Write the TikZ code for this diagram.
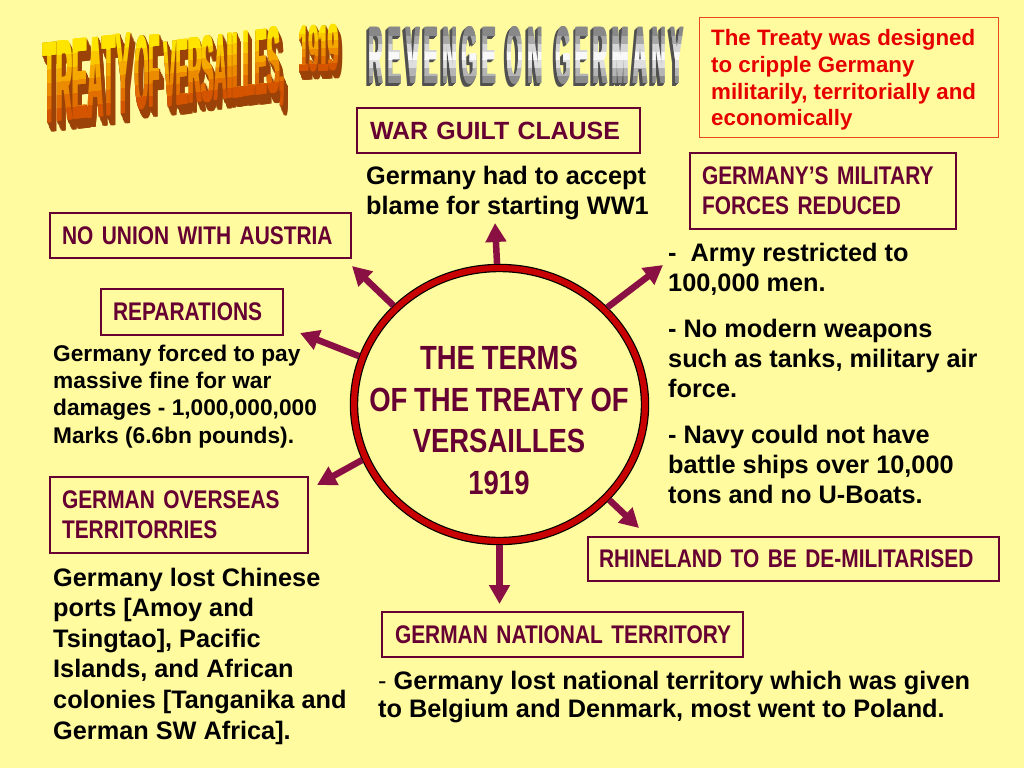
\documentclass[tikz,border=0pt]{standalone}
\usepackage{fontspec}
\setmainfont{Liberation Sans}
\newfontfamily\bodyf{Liberation Sans Bold}
\newfontfamily\regf{Liberation Sans}
\newfontfamily\narrowf{Liberation Sans Bold}[FakeStretch=0.82]
\newfontfamily\artf{Liberation Sans Bold}
\newcommand\boxfont{\narrowf\fontsize{25.5}{30}\selectfont\spaceskip 5pt\relax}
\newcommand\termsfont{\narrowf\fontsize{33.5}{41.5}\selectfont\spaceskip 6.8pt\relax}
\usetikzlibrary{arrows.meta,shapes.geometric}

\definecolor{bg}{HTML}{FFFB9E}
\definecolor{maroon}{HTML}{660033}
\definecolor{arrowc}{HTML}{8A0F42}
\definecolor{ringred}{HTML}{C80000}
\definecolor{boxred}{HTML}{E84A1C}
\definecolor{txtred}{HTML}{E60000}
\definecolor{deep}{HTML}{9A4208}
\definecolor{shadowgrey}{HTML}{505050}
\definecolor{t0}{HTML}{D45400}
\definecolor{t1}{HTML}{E26E00}
\definecolor{t2}{HTML}{EC8A00}
\definecolor{t3}{HTML}{F4A800}
\definecolor{t4}{HTML}{FBC800}
\definecolor{t5}{HTML}{FFE400}
\definecolor{r0}{HTML}{8C8C8C}
\definecolor{r1}{HTML}{B4B4B4}
\definecolor{r2}{HTML}{DEDEDE}
\definecolor{r3}{HTML}{F8F8F8}
\definecolor{r4}{HTML}{D6D6D6}
\definecolor{r5}{HTML}{A8A8A8}
\definecolor{r6}{HTML}{888888}

\tikzset{
  artnode/.style={anchor=base west, inner sep=0pt, outer sep=0pt},
  tbox/.style={draw=maroon, line width=2.6pt, text=maroon,
    font={\boxfont}, inner xsep=12pt, inner ysep=0pt,
    align=left, anchor=north west, outer sep=0pt},
  bodytxt/.style={anchor=north west, inner sep=0pt, align=left,
    font=\bodyf\fontsize{25.3}{30}\selectfont},
  arr/.style={draw=arrowc, line width=6.5pt, -{Triangle[length=19pt,width=20pt]}},
  ring/.style={ellipse, draw=black, line width=1.2pt, double=ringred, double distance=6pt,
    fill=bg, minimum width=291pt, minimum height=273pt, inner sep=0pt, outer sep=4pt}
}

% x, baseline y, width, height, slant, text, steps, ddx, ddy
\newcommand\artdepth[9]{%
  \foreach \k in {#7,...,1}{%
    \foreach \sm in {0,1.6}{%
      \node[artnode, yslant=#5, text=artdeep] at ({#1+#8*\k+\sm},{#2+#9*\k}) {\resizebox{#3pt}{#4pt}{#6}};}}}
% x, baseline y, width, height, slant, text, number of bands, band colours
\newcommand\artface[8]{%
  \foreach \col [count=\i from 0] in {#8}{%
    \pgfmathsetmacro\artlo{ifthenelse(\i==0,-14,#4*\i/#7)}%
    \pgfmathsetmacro\arthi{ifthenelse(\i==#7-1,#4+14,#4*(\i+1)/#7)}%
    \begin{scope}
      \clip ({#1-5},{#2+5*#5-(\artlo)}) -- ({#1+#3+7},{#2-(#3+7)*#5-(\artlo)})
        -- ({#1+#3+7},{#2-(#3+7)*#5-(\arthi)}) -- ({#1-5},{#2+5*#5-(\arthi)}) -- cycle;
      \foreach \dx in {0,0.8,1.6}{%
        \node[artnode, yslant=#5, text=\col] at ({#1+\dx},{#2}) {\resizebox{#3pt}{#4pt}{#6}};}
    \end{scope}}}

\begin{document}
\begin{tikzpicture}[x=1pt,y=-1pt]
\useasboundingbox (0,0) rectangle (1024,768);
\fill[bg] (0,0) rectangle (1024,768);

% ---- title word art
\colorlet{artdeep}{deep}
\artdepth{42}{123}{88}{80}{0.11}{\artf TREATY}{11}{0.4}{0.9}
\artdepth{134}{109}{25}{73}{0.10}{\artf OF}{11}{0.4}{0.9}
\artdepth{163}{107}{121}{66}{0.13}{\artf VERSAILLES,}{11}{0.4}{0.9}
\artdepth{298}{72}{40}{46}{0.05}{\artf 1919}{9}{0.4}{0.9}
\artface{42}{123}{88}{80}{0.11}{\artf TREATY}{6}{t0,t1,t2,t3,t4,t5}
\artface{134}{109}{25}{73}{0.10}{\artf OF}{6}{t0,t1,t2,t3,t4,t5}
\artface{163}{107}{121}{66}{0.13}{\artf VERSAILLES,}{6}{t0,t1,t2,t3,t4,t5}
\artface{298}{72}{40}{46}{0.05}{\artf 1919}{6}{t0,t1,t2,t3,t4,t5}

\colorlet{artdeep}{shadowgrey}
\artdepth{368}{84}{127}{57}{0}{\artf R\kern.25em E\kern.25em V\kern.25em E\kern.25em N\kern.25em G\kern.25em E}{3}{-0.9}{0.9}
\artdepth{506}{84}{36}{57}{0}{\artf O\kern.25em N}{3}{-0.9}{0.9}
\artdepth{555}{84}{128}{57}{0}{\artf G\kern.25em E\kern.25em R\kern.25em M\kern.25em A\kern.25em N\kern.25em Y}{3}{-0.9}{0.9}
\artface{368}{84}{127}{57}{0}{\artf R\kern.25em E\kern.25em V\kern.25em E\kern.25em N\kern.25em G\kern.25em E}{7}{r0,r1,r2,r3,r4,r5,r6}
\artface{506}{84}{36}{57}{0}{\artf O\kern.25em N}{7}{r0,r1,r2,r3,r4,r5,r6}
\artface{555}{84}{128}{57}{0}{\artf G\kern.25em E\kern.25em R\kern.25em M\kern.25em A\kern.25em N\kern.25em Y}{7}{r0,r1,r2,r3,r4,r5,r6}

% ---- red note
\node[draw=boxred, line width=1.3pt, anchor=north west, minimum width=299pt,
  minimum height=120pt, inner sep=0pt] (redbox) at (699,17) {};
\node[anchor=north west, inner sep=0pt, align=left, text=txtred,
  font=\bodyf\fontsize{22.3}{26.7}\selectfont] (redtxt) at (711,29.5)
  {The Treaty was designed\\to cripple Germany\\militarily, territorially and\\economically};

% ---- centre
\node[ring] (terms) at (499.5,404.5) {};
\node[font={\termsfont}, text=maroon, align=center, inner sep=0pt]
  (termstxt) at (499,420.5) {THE TERMS\\OF THE TREATY OF\\VERSAILLES\\1919};

% ---- boxes
\node[tbox, font=\bodyf\fontsize{24.9}{30}\selectfont, inner xsep=13pt, text width=257pt,
  minimum height=45pt] (guilt) at (357,108) {\mbox{WAR GUILT CLAUSE}};
\node[tbox, text width=242pt, minimum height=76pt] (military) at (690,153)
  {\mbox{GERMANY’S MILITARY}\\\mbox{FORCES REDUCED}};
\node[tbox, text width=277pt, minimum height=45pt] (austria) at (50,213) {\mbox{NO UNION WITH AUSTRIA}};
\node[tbox, text width=158pt, minimum height=46pt] (repar) at (101,289) {\mbox{REPARATIONS}};
\node[tbox, text width=234pt, minimum height=76pt] (overseas) at (50,477)
  {\mbox{GERMAN OVERSEAS}\\\mbox{TERRITORRIES}};
\node[tbox, inner xsep=11pt, text width=389pt, minimum height=44pt] (rhine) at (588,537)
  {\mbox{RHINELAND TO BE DE-MILITARISED}};
\node[tbox, inner xsep=13pt, text width=335pt, minimum height=45pt] (national) at (382,612)
  {\mbox{GERMAN NATIONAL TERRITORY}};

% ---- texts
\node[bodytxt] (guilttxt) at (366,165.5) {Germany had to accept\\blame for starting WW1};
\node[bodytxt] (milittxt) at (668,242.5)
  {-~~Army restricted to\\100,000 men.\\[16pt]- No modern weapons\\such as tanks, military air\\force.\\[16pt]- Navy could not have\\battle ships over 10,000\\tons and no U-Boats.};
\node[bodytxt, font=\bodyf\fontsize{22.7}{27.3}\selectfont] (reptxt) at (53,344.5)
  {Germany forced to pay\\massive fine for war\\damages - 1,000,000,000\\Marks (6.6bn pounds).};
\node[bodytxt, font=\bodyf\fontsize{25.3}{30.6}\selectfont] (overtxt) at (53,567.5)
  {Germany lost Chinese\\ports [Amoy and\\Tsingtao], Pacific\\Islands, and African\\colonies [Tanganika and\\German SW Africa].};
\node[bodytxt, font=\bodyf\fontsize{25.3}{28.5}\selectfont] (nattxt) at (378,670.5)
  {{\regf -} Germany lost national territory which was given\\to Belgium and Denmark, most went to Poland.};

% ---- arrows
\coordinate (tipguilt) at (495,223);
\coordinate (tipaustria) at (352,266);
\coordinate (tiprepar) at (300,333);
\coordinate (tipover) at (317,485);
\coordinate (tipmilit) at (663,265);
\coordinate (tiprhine) at (639,528);
\coordinate (tipnat) at (499.5,604);
\draw[arr] (terms.91.8) -- (tipguilt);
\draw[arr] (terms.137.5) -- (tipaustria);
\draw[arr] (terms.161.4) -- (tiprepar);
\draw[arr] (terms.202.8) -- (tipover);
\draw[arr] (terms.42.2) -- (tipmilit);
\draw[arr] (terms.319.2) -- (tiprhine);
\draw[arr] (terms.270) -- (tipnat);
\end{tikzpicture}
\end{document}
